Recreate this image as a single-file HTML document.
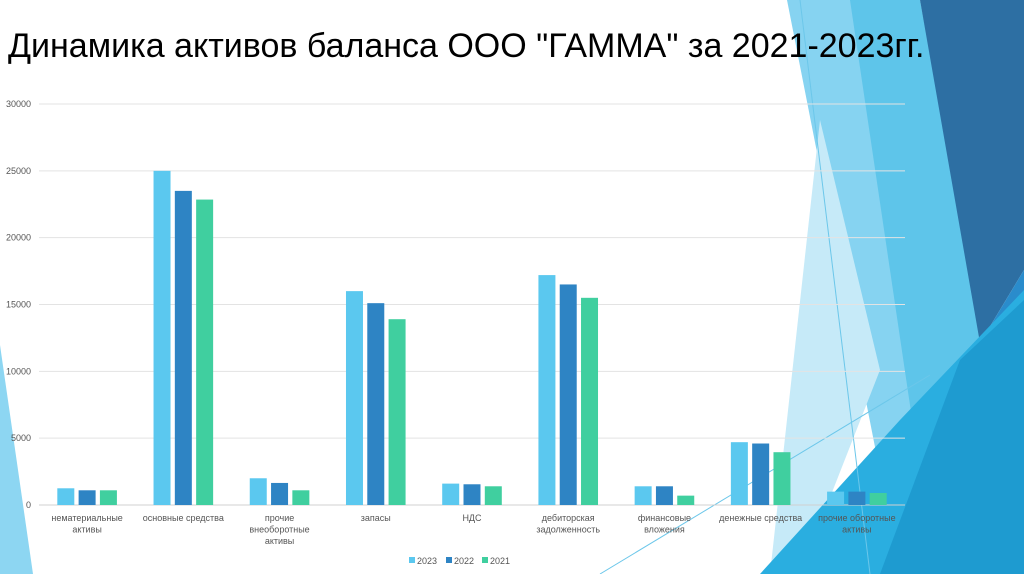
<!DOCTYPE html>
<html><head><meta charset="utf-8"><style>
body{margin:0;width:1024px;height:574px;overflow:hidden;background:#fff;font-family:"Liberation Sans",sans-serif;}
svg{position:absolute;left:0;top:0}
</style></head><body>
<svg width="1024" height="574">
<g>
<polygon points="0,345 33,574 0,574" fill="#8dd6f2"/>
<polygon points="787,0 920,0 990,574 900,574" fill="#86d3f1"/>
<polygon points="820,120 880,370 800,574 770,574" fill="#c6eaf8"/>
<polygon points="850,0 920,0 985,345 995,574 935,574" fill="#5ec5ea"/>
<polygon points="920,0 1024,0 1024,270 980,343" fill="#2d6fa3"/>
<polygon points="980,343 1024,270 1024,574 950,574" fill="#2a8ccc"/>
<polygon points="760,574 900,420 1024,290 1024,574" fill="#2aaee0"/>
<polygon points="880,574 960,360 1024,300 1024,574" fill="#1e9bd0"/>
<line x1="800" y1="0" x2="870" y2="574" stroke="#6cc7ea" stroke-width="1"/>
<line x1="600" y1="574" x2="930" y2="375" stroke="#6cc7ea" stroke-width="1"/>
</g>
<text x="8" y="57" font-size="34" fill="#000">Динамика активов баланса ООО "ГАММА" за 2021-2023гг.</text>
<g id="grid"></g><g id="bars"></g><g id="labels"></g>
<g font-size="9" fill="#555">
<rect x="409" y="557" width="6" height="6" fill="#5bc8ef"/><text x="417" y="564">2023</text>
<rect x="446" y="557" width="6" height="6" fill="#2e84c4"/><text x="454" y="564">2022</text>
<rect x="482" y="557" width="6" height="6" fill="#40cf9f"/><text x="490" y="564">2021</text>
</g>
</svg>
<script>
const categories=[["нематериальные","активы"],["основные средства"],["прочие","внеоборотные","активы"],["запасы"],["НДС"],["дебиторская","задолженность"],["финансовые","вложения"],["денежные средства"],["прочие оборотные","активы"]];
const s2023=[1250,25000,2000,16000,1600,17200,1400,4700,1000];
const s2022=[1100,23500,1650,15100,1550,16500,1400,4600,1000];
const s2021=[1100,22850,1100,13900,1400,15500,700,3950,900];
const yTicks=[0,5000,10000,15000,20000,25000,30000];
const series=[s2023,s2022,s2021];
const colors=["#5bc8ef","#2e84c4","#40cf9f"];
const names=["2023","2022","2021"];
const NS="http://www.w3.org/2000/svg";
const x0=39,x1=905,y0=505,yTop=104,yMax=30000;
const step=(x1-x0)/categories.length;
function y(v){return y0-(v/yMax)*(y0-yTop);}
function xc(i){return x0+step*(i+0.5);}
const grid=document.getElementById('grid');
yTicks.forEach(t=>{
 const l=document.createElementNS(NS,'line');
 l.setAttribute('x1',x0);l.setAttribute('x2',x1);l.setAttribute('y1',y(t));l.setAttribute('y2',y(t));
 l.setAttribute('stroke',t===0?'#d0d0d0':'#e3e3e3');l.setAttribute('stroke-width','1');
 
 
 grid.appendChild(l);
 const tx=document.createElementNS(NS,'text');
 tx.setAttribute('x',31);tx.setAttribute('y',y(t)+3);tx.setAttribute('text-anchor','end');
 tx.setAttribute('font-size','9');tx.setAttribute('fill','#555');tx.textContent=t;
 
 
 grid.appendChild(tx);
});
const bars=document.getElementById('bars');
series.forEach((s,k)=>{s.forEach((v,i)=>{
 const r=document.createElementNS(NS,'rect');
 const bx=xc(i)+(k-1)*21.3-8.5;
 r.setAttribute('x',bx);r.setAttribute('width',17);r.setAttribute('y',y(v));r.setAttribute('height',y0-y(v));
 r.setAttribute('fill',colors[k]);
 
 
 bars.appendChild(r);
});});
const labels=document.getElementById('labels');
categories.forEach((c,i)=>{
 const t=document.createElementNS(NS,'text');
 t.setAttribute('text-anchor','middle');t.setAttribute('font-size','9');t.setAttribute('fill','#555');
 
 
 c.forEach((ln,j)=>{const ts=document.createElementNS(NS,'tspan');ts.setAttribute('x',xc(i));ts.setAttribute('y',521+j*11.5);ts.textContent=ln;t.appendChild(ts);});
 labels.appendChild(t);
});
</script>
</body></html>
